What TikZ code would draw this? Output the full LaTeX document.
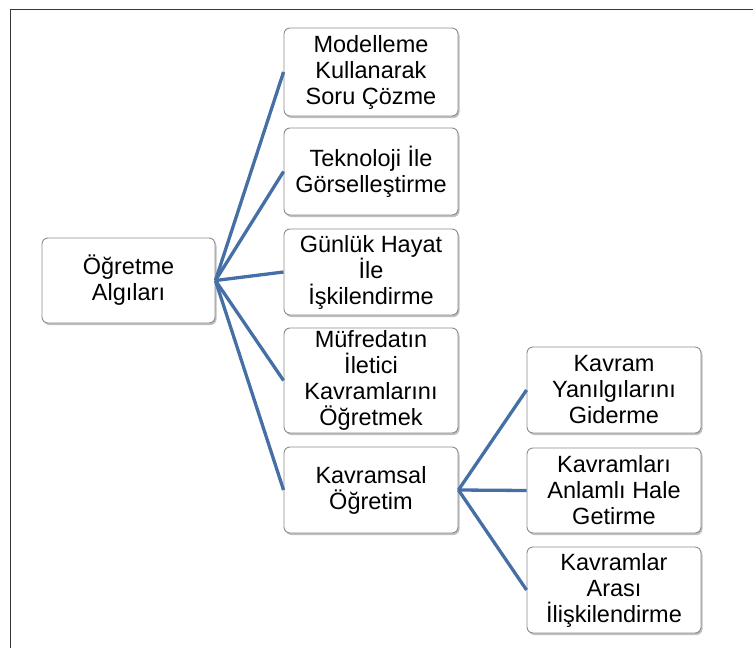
\documentclass[tikz,border=0pt]{standalone}
\usepackage{fontspec}
\setmainfont{Liberation Sans}
\usetikzlibrary{shadows}
\definecolor{linkblue}{RGB}{70,112,165}
\definecolor{boxborder}{RGB}{140,140,140}
\definecolor{framecol}{RGB}{55,55,55}
\begin{document}
\begin{tikzpicture}[x=1pt,y=-1pt,
  box/.style={draw=boxborder, line width=0.9pt, rounded corners=6pt, fill=white,
    minimum width=174pt, align=center, inner sep=0pt,
    font=\fontsize{23.5}{26}\selectfont,
    drop shadow={shadow xshift=1.5pt, shadow yshift=-2pt, fill=black, opacity=0.25}},
  link/.style={draw=linkblue, line width=3.3pt}]
\useasboundingbox (0,0) rectangle (753,648);
\draw[framecol, line width=1.6pt] (10.5,648) -- (10.5,9.5) -- (753,9.5);

\node[box, minimum width=173pt, minimum height=85pt] (root) at (128.5,280.5) {Öğretme\\Algıları};

\node[box, minimum height=88pt] (m1) at (371,72) {Modelleme\\Kullanarak\\Soru Çözme};
\node[box, minimum height=87pt] (m2) at (371,171.5) {Teknoloji İle\\Görselleştirme};
\node[box, minimum height=86pt] (m3) at (371,272) {Günlük Hayat\\İle\\İşkilendirme};
\node[box, minimum height=105pt] (m4) at (371,380.5) {Müfredatın\\İletici\\Kavramlarını\\Öğretmek};
\node[box, minimum height=86pt] (m5) at (371,490) {Kavramsal\\Öğretim};

\node[box, minimum height=86pt] (r1) at (614,390) {Kavram\\Yanılgılarını\\Giderme};
\node[box, minimum height=85pt] (r2) at (614,490.5) {Kavramları\\Anlamlı Hale\\Getirme};
\node[box, minimum height=86pt] (r3) at (614,590) {Kavramlar\\Arası\\İlişkilendirme};

\foreach \n in {m1,m2,m3,m4,m5}
  \draw[link] (root.east) -- (\n.west);
\foreach \n in {r1,r2,r3}
  \draw[link] (m5.east) -- (\n.west);
\end{tikzpicture}
\end{document}
